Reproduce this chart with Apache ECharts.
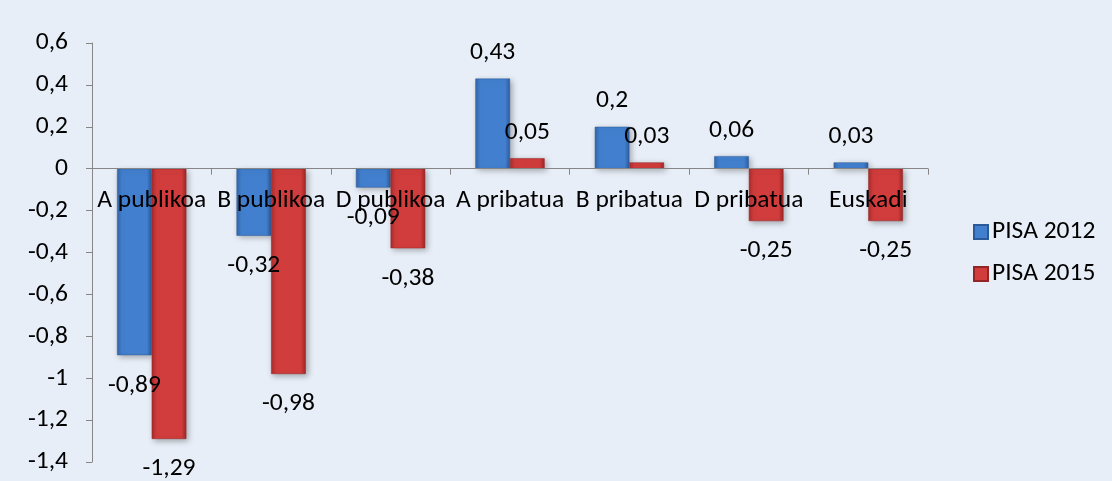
<!DOCTYPE html>
<html><head><meta charset="utf-8">
<script src="https://cdn.jsdelivr.net/npm/echarts@6/dist/echarts.min.js"></script>
<style>html,body{margin:0;padding:0;background:#E8EEF7;}#c{width:1112px;height:481px;}</style>
</head><body><div id="c"></div>
<script>
var categories = ['A publikoa','B publikoa','D publikoa','A pribatua','B pribatua','D pribatua','Euskadi'];
var pisa2012 = [-0.89, -0.32, -0.09, 0.43, 0.2, 0.06, 0.03];
var pisa2015 = [-1.29, -0.98, -0.38, 0.05, 0.03, -0.25, -0.25];
var seriesNames = ['PISA 2012','PISA 2015'];
var yMin = -1.4, yMax = 0.6, yStep = 0.2;

var W = 1112, H = 481;
var G = {left:92, right:184, top:43, bottom:19};
var gridH = H - G.top - G.bottom;
var zeroOffset = -gridH * (0 - yMin) / (yMax - yMin);

var FONT = 'Carlito, Lato, sans-serif';
var FS = 25.5;
function fmt(v){ return String(Math.round(v*100)/100).replace('.', ','); }
function grad(edge, mid, edge2){
  return new echarts.graphic.LinearGradient(0,0,1,0,[
    {offset:0,color:edge},{offset:0.14,color:mid},{offset:0.86,color:mid},{offset:1,color:edge2}]);
}
function mkData(arr){
  return arr.map(function(v){
    return {value:v, label:{position: v<0 ? 'bottom':'top', distance: v<0 ? 17 : 13}};
  });
}
var blue = grad('#3466AA','#4280CF','#2D5D9F');
var red = grad('#A92C2C','#D13C3C','#9E2626');
var lblStyle = {show:true,fontSize:FS,lineHeight:26,color:'#000',fontFamily:FONT,formatter:function(p){return fmt(p.value);}};
var chart = echarts.init(document.getElementById('c'));
chart.setOption({
  backgroundColor:'#E8EEF7',
  animation:false,
  textStyle:{fontFamily:FONT},
  grid:G,
  legend:{
    orient:'vertical', left:968, top:214, itemWidth:14, itemHeight:14, itemGap:16,
    icon:'rect',
    textStyle:{fontSize:FS,lineHeight:26,color:'#000',fontFamily:FONT,padding:[0,0,0,-1]},
    data:seriesNames
  },
  xAxis:{
    type:'category', data:categories, position:'bottom', offset:zeroOffset, z:10,
    axisLine:{onZero:false,lineStyle:{color:'#868686',width:1}},
    axisTick:{show:true,length:6,inside:false,lineStyle:{color:'#868686'}},
    axisLabel:{interval:0,fontSize:FS,lineHeight:26,color:'#000',margin:19,fontFamily:FONT},
    splitLine:{show:false}
  },
  yAxis:{
    type:'value', min:yMin, max:yMax, interval:yStep, z:10,
    axisLine:{show:true,lineStyle:{color:'#868686'}},
    axisTick:{show:true,length:6,lineStyle:{color:'#868686'}},
    axisLabel:{fontSize:FS,color:'#000',margin:24,fontFamily:FONT,
      formatter:function(v){ return fmt(Math.round(v*10)/10); }},
    splitLine:{show:false}
  },
  series:[
    {name:seriesNames[0], type:'bar', data:mkData(pisa2012), barGap:'0%', barCategoryGap:'42%',
     itemStyle:{color:blue,borderColor:'#2A5A9A',borderWidth:0.5,shadowBlur:6,shadowColor:'rgba(0,0,0,0.3)',shadowOffsetX:2,shadowOffsetY:2},
     label:lblStyle},
    {name:seriesNames[1], type:'bar', data:mkData(pisa2015), barGap:'0%', barCategoryGap:'42%',
     itemStyle:{color:red,borderColor:'#952424',borderWidth:0.5,shadowBlur:6,shadowColor:'rgba(0,0,0,0.3)',shadowOffsetX:2,shadowOffsetY:2},
     label:lblStyle}
  ]
});
</script></body></html>
